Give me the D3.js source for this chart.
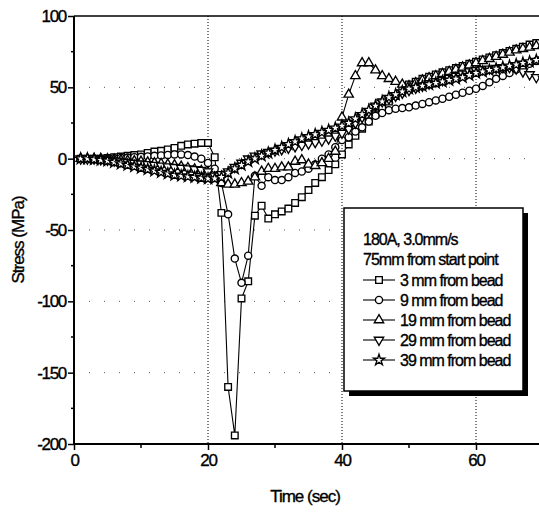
<!DOCTYPE html>
<html><head><meta charset="utf-8">
<script src="https://cdn.jsdelivr.net/npm/d3@7"></script>
<style>
html,body{margin:0;padding:0;background:#fff;}
svg{display:block;}
text{font-family:"Liberation Sans",Arial,sans-serif;fill:#000;stroke:#000;stroke-width:0.35px;}
</style></head><body>
<svg id="chart" width="539" height="513"></svg>
<script>
const time = [1,2,3,4,5,6,7,8,9,10,11,12,13,14,15,16,17,18,19,20,21,22,23,24,25,26,27,28,29,30,31,32,33,34,35,36,37,38,39,40,41,42,43,44,45,46,47,48,49,50,51,52,53,54,55,56,57,58,59,60,61,62,63,64,65,66,67,68,69,70];
const mm3 = [0,0,0,0,0.5,1,1.5,2,2.5,3, 4,5,5.5,6.5,7.5,9,10,10.5,11,11, 1,-38,-160,-194,-98,-86,-40,-33,-42,-39, -37,-35,-31,-27,-22,-17,-13,-8,-4,3, 10,16,21,26,31,36,40,44,48,52, 54,56,57.5,59,60.5,62,63.5,65,66.5,68, 69.5,71,72.5,74,75.5,77,78.5,80,81,82];
const mm9 = [0,0,0,0,0,0.3,0.5,0.8,1,1.3, 1.6,2,2.3,2.6,3,3,2.5,1.5,0,-3, -7,-17,-39,-70,-87,-68,-12,-19,-13,-15, -15,-13,-10,-9,-7,-4,0,3,8,13, 15,19,22,26,30,32,34,35,35.5,36, 37.2,38.4,39.6,40.8,42,43.4,44.8,46.2,47.6,49, 51,53.5,56,58,60,62.5,64.5,66.5,68.5,70];
const mm19 = [0,0,0,0,-0.3,-0.6,-1,-1.3,-1.6,-2, -2.5,-3,-3.5,-4,-4.5,-5.5,-6.5,-7.5,-8.5,-9.5, -13,-17,-18,-18,-17,-16,-13,-9,-7,-7, -6,-6,-2,-1,-4,-5,-3,0,5,29, 45,58,67,67,62,58,56,54,52,51, 53,55,56.5,58,59.5,61,62.5,64,65.5,67, 68.5,70,71.5,73,74.5,76,77,78,79,80];
const mm29 = [0,0,0,-0.5,-1,-1.5,-2,-2.5,-3,-3.5, -4,-4.5,-5,-5.5,-6,-6.5,-7,-7.5,-8,-9, -12,-11,-9,-6,-3,0,2,3.5,4.5,5.5, 6.5,7.5,8.5,9.5,10.5,11.5,12.5,14,16,18, 21,25,29,33,37,40,42,44,46,48, 49.5,51,52.5,54,55,56.5,58,59.5,61,62, 62.5,63,63.5,64,64,63,61,59,57,56];
const mm39 = [0,0,-0.5,-1,-1.5,-2.5,-3.5,-4.5,-5.5,-6.5, -7.5,-8.5,-9.5,-10.5,-11.5,-12,-12.5,-13,-13.5,-14, -14,-13,-10,-7,-4.5,-2,0,2,4,6, 8,10,12,14,15.5,17,18.5,20,21.5,23, 25,28,31,34,37,40,43,45,47,49, 50,51,52,53,54,55,56,57,58.5,60, 61,62,63,64,65,66,67,68,69,70];
const seriesNames = ["3 mm from bead","9 mm from bead","19 mm from bead","29 mm from bead","39 mm from bead"];
const legendTitle = ["180A, 3.0mm/s","75mm from start point"];
const xTicks = [0,20,40,60];
const yTicks = [100,50,0,-50,-100,-150,-200];

const svg = d3.select("#chart");
const x = d3.scaleLinear().domain([0,70]).range([74,543]);
const y = d3.scaleLinear().domain([-200,100]).range([444,16]);

// grid
svg.append("g").selectAll("line").data(xTicks.filter(d=>d>0)).join("line")
  .attr("x1",d=>x(d)).attr("x2",d=>x(d)).attr("y1",y(100)).attr("y2",y(-200))
  .attr("stroke","#000").attr("stroke-width",1).attr("stroke-dasharray","1,2");
svg.append("g").selectAll("line").data([50,0,-50,-100,-150]).join("line")
  .attr("x1",x(0)).attr("x2",539).attr("y1",d=>y(d)).attr("y2",d=>y(d))
  .attr("stroke","#555").attr("stroke-width",1).attr("stroke-dasharray","1,14");

// axes
const fmt = d=>String(d);
const xAxis = d3.axisBottom(x).tickValues(xTicks).tickFormat(fmt).tickSize(6).tickPadding(4);
const gx = svg.append("g").attr("transform",`translate(0,${y(-200)})`).call(xAxis);
gx.select(".domain").remove();
gx.selectAll(".tick line").attr("stroke-width",1.5);
gx.selectAll(".tick text").attr("font-size",17).attr("letter-spacing",-1.3).attr("font-family","Liberation Sans, Arial");
svg.append("g").selectAll("line").data([10,30,50]).join("line")
  .attr("x1",d=>x(d)).attr("x2",d=>x(d)).attr("y1",y(-200)).attr("y2",y(-200)+4)
  .attr("stroke","#000").attr("stroke-width",1.5);

const yAxis = d3.axisLeft(y).tickValues(yTicks).tickFormat(fmt).tickSize(6).tickPadding(2);
const gy = svg.append("g").attr("transform",`translate(${x(0)},0)`).call(yAxis);
gy.select(".domain").remove();
gy.selectAll(".tick line").attr("stroke-width",1.5);
gy.selectAll(".tick text").attr("font-size",17).attr("letter-spacing",-1.3).attr("font-family","Liberation Sans, Arial");
svg.append("g").selectAll("line").data([75,25,-25,-75,-125,-175]).join("line")
  .attr("x1",x(0)-3).attr("x2",x(0)).attr("y1",d=>y(d)).attr("y2",d=>y(d))
  .attr("stroke","#000").attr("stroke-width",1.5);

// frame
svg.append("line").attr("x1",x(0)).attr("x2",x(0)).attr("y1",y(100)).attr("y2",y(-200)).attr("stroke","#000").attr("stroke-width",2);
svg.append("line").attr("x1",x(0)).attr("x2",539).attr("y1",y(-200)).attr("y2",y(-200)).attr("stroke","#000").attr("stroke-width",2);
svg.append("line").attr("x1",x(0)).attr("x2",539).attr("y1",y(100)).attr("y2",y(100)).attr("stroke","#000").attr("stroke-width",1.5);

// axis titles
svg.append("text").attr("x",305).attr("y",502).attr("text-anchor","middle")
  .attr("font-size",17).attr("letter-spacing",-1).text("Time (sec)");
svg.append("text").attr("transform","translate(24,240) rotate(-90)").attr("text-anchor","middle")
  .attr("font-size",17).attr("letter-spacing",-1).text("Stress (MPa)");

// series
const syms = [
  {t:d3.symbolSquare, s:44, r:0},
  {t:d3.symbolCircle, s:40, r:0},
  {t:d3.symbolTriangle, s:38, r:0},
  {t:d3.symbolTriangle, s:38, r:180},
  {t:d3.symbolStar, s:38, r:0}
];
const allSeries = [mm3,mm9,mm19,mm29,mm39];
const plot = svg.append("g");
allSeries.forEach((vals,i)=>{
  const pts = time.map((t,j)=>({t, v:vals[j]}));
  plot.append("path").datum(pts)
    .attr("d", d3.line().x(d=>x(d.t)).y(d=>y(d.v)))
    .attr("fill","none").attr("stroke","#000").attr("stroke-width",1.1);
});
allSeries.forEach((vals,i)=>{
  const pts = time.map((t,j)=>({t, v:vals[j]}));
  const sym = d3.symbol().type(syms[i].t).size(syms[i].s);
  plot.append("g").selectAll("path").data(pts).join("path")
    .attr("d", sym)
    .attr("transform", d=>`translate(${x(d.t)},${y(d.v)}) rotate(${syms[i].r})`)
    .attr("fill","#fff").attr("stroke","#000").attr("stroke-width",1.35);
});

// legend
const lg = svg.append("g");
lg.append("rect").attr("x",349).attr("y",213).attr("width",179).attr("height",183).attr("fill","#000");
lg.append("rect").attr("x",344).attr("y",208).attr("width",179).attr("height",183)
  .attr("fill","#fff").attr("stroke","#000").attr("stroke-width",1.5);
lg.selectAll("text.hdr").data(legendTitle).join("text").attr("class","hdr")
  .attr("x",363).attr("y",(d,i)=>245+i*20).attr("font-size",16).attr("letter-spacing",-1).text(d=>d);
seriesNames.forEach((n,i)=>{
  const yy = 280 + i*20;
  lg.append("line").attr("x1",363).attr("x2",395).attr("y1",yy).attr("y2",yy)
    .attr("stroke","#000").attr("stroke-width",1.1);
  lg.append("path").attr("d", d3.symbol().type(syms[i].t).size(syms[i].s)())
    .attr("transform",`translate(379,${yy}) rotate(${syms[i].r})`)
    .attr("fill","#fff").attr("stroke","#000").attr("stroke-width",1.35);
  lg.append("text").attr("x",400).attr("y",yy+6).attr("font-size",16).attr("letter-spacing",-1).text(n);
});
</script>
</body></html>
